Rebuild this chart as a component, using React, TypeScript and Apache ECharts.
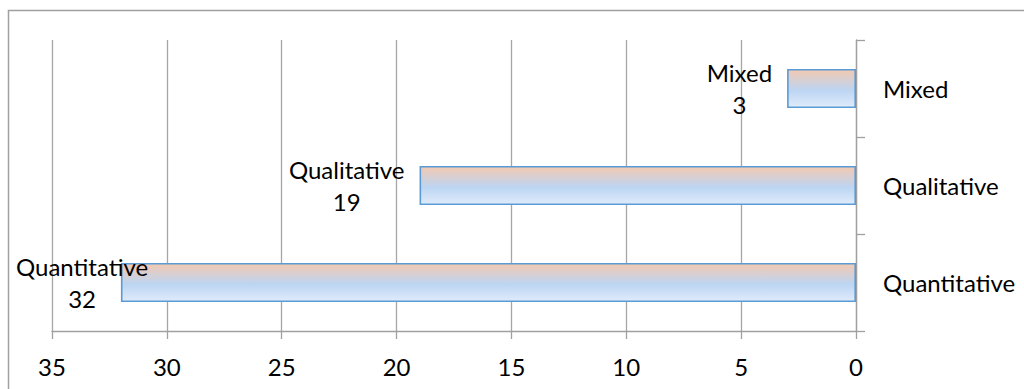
import React, { useEffect, useRef } from "react";
import * as echarts from "echarts";

const categories = ["Quantitative", "Qualitative", "Mixed"];
const values = [32, 19, 3];
const xTicks = [0, 5, 10, 15, 20, 25, 30, 35];

const FONT = "Lato";
const FS = 24;

function textWidth(t: string): number {
  const c = document.createElement("canvas").getContext("2d");
  if (!c) return t.length * FS * 0.5;
  c.font = `${FS}px ${FONT}`;
  return c.measureText(t).width;
}

export default function App() {
  const ref = useRef<HTMLDivElement>(null);
  useEffect(() => {
    document.body.style.margin = "0";
    if (!ref.current) return;
    const chart = echarts.init(ref.current, null, { renderer: "svg" });
    const gridLeft = 52;
    const gridRight = 168;
    const plotW = 1024 - gridLeft - gridRight;
    const xMax = xTicks[xTicks.length - 1];
    const data = values.map((v, i) => {
      const half = Math.max(textWidth(categories[i]), textWidth(String(v))) / 2;
      const barEndX = gridLeft + plotW * (1 - v / xMax);
      let dist = half + 15;
      const minCenter = half + 16;
      if (barEndX - dist < minCenter) dist = barEndX - minCenter;
      return {
        value: v,
        label: { distance: dist },
      };
    });
    chart.setOption({
      animation: false,
      textStyle: { fontFamily: FONT },
      grid: { left: gridLeft, right: gridRight, top: 40, bottom: 58 },
      xAxis: {
        type: "value",
        inverse: true,
        min: 0,
        max: xMax,
        interval: 5,
        axisLine: { show: true, lineStyle: { color: "#a0a0a0", width: 1.3 } },
        axisTick: { show: true, length: 8, lineStyle: { color: "#a0a0a0", width: 1.3 } },
        splitLine: { show: true, lineStyle: { color: "#a6a6a6", width: 1.3 } },
        axisLabel: { color: "#000", fontSize: FS, fontFamily: FONT, margin: 23 },
      },
      yAxis: {
        type: "category",
        position: "right",
        data: categories,
        axisLine: { show: true, lineStyle: { color: "#a0a0a0", width: 1.3 } },
        axisTick: { show: true, length: 9, lineStyle: { color: "#a0a0a0", width: 1.3 } },
        axisLabel: { color: "#000", fontSize: FS, fontFamily: FONT, margin: 27 },
        splitLine: { show: false },
      },
      series: [
        {
          type: "bar",
          data,
          barWidth: 39,
          itemStyle: {
            borderColor: "#5b9bd5",
            borderWidth: 1.6,
            color: new echarts.graphic.LinearGradient(0, 0, 0, 1, [
              { offset: 0, color: "#f3c9b2" },
              { offset: 0.55, color: "#bcd5f2" },
              { offset: 1, color: "#e0ebfb" },
            ]),
          },
          label: {
            show: true,
            position: "left",
            align: "center",
            verticalAlign: "middle",
            color: "#000",
            fontSize: FS,
            fontFamily: FONT,
            lineHeight: 32,
            formatter: (p: any) => `${p.name}\n${p.value}`,
          },
        },
      ],
      graphic: [
        {
          type: "polyline",
          silent: true,
          shape: { points: [[8.5, 389], [8.5, 10.5], [1024, 10.5]] },
          style: { stroke: "#a0a0a0", lineWidth: 1.5, fill: "none" },
        },
      ],
    });
    return () => chart.dispose();
  }, []);
  return <div ref={ref} style={{ width: 1024, height: 389 }} />;
}
